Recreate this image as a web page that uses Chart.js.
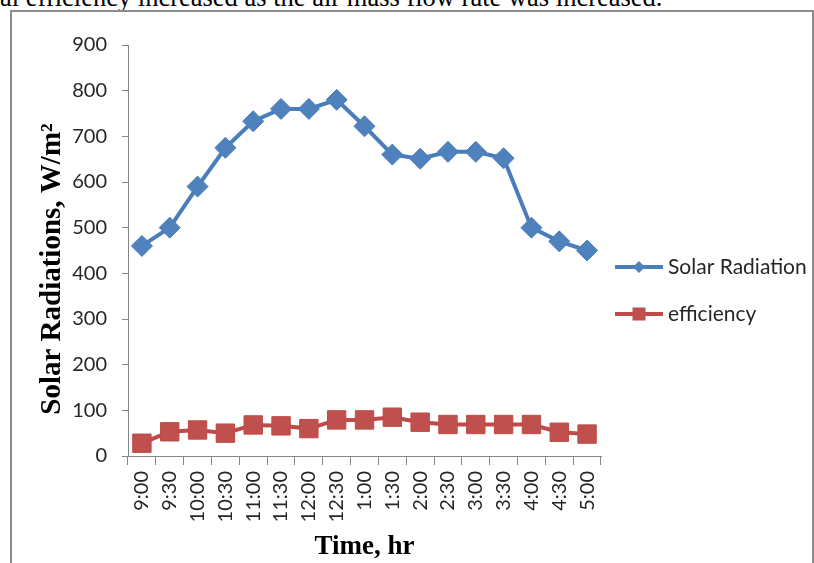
<!DOCTYPE html>
<html>
<head>
<meta charset="utf-8">
<title>Solar radiation and efficiency</title>
<script src="https://cdn.jsdelivr.net/npm/chart.js@4.4.0/dist/chart.umd.min.js"></script>
<style>
  html, body { margin: 0; padding: 0; background: #fff; overflow: hidden; }
  #wrap { position: relative; width: 814px; height: 563px; overflow: hidden; }
  #caption {
    position: absolute; left: 0; top: -16px;
    font: 26.5px "Liberation Serif", "Times New Roman", serif;
    line-height: 26.5px; white-space: nowrap; color: #000;
  }
  #frame {
    position: absolute; left: 10px; top: 10px;
    width: 800px; height: 600px;
    border: 2px solid #8c8c8c;
  }
  #chart { position: absolute; left: 0; top: 0; }
</style>
</head>
<body>
<div id="wrap">
  <div id="caption">al efficiency increased as the air mass flow rate was increased.</div>
  <div id="frame"></div>
  <canvas id="chart" width="814" height="563"></canvas>
</div>
<script>
// --- DATA ---
const timeLabels = ['9:00', '9:30', '10:00', '10:30', '11:00', '11:30', '12:00', '12:30',
  '1:00', '1:30', '2:00', '2:30', '3:00', '3:30', '4:00', '4:30', '5:00'];
const solarRadiation = [460, 500, 590, 675, 733, 760, 760, 780, 722, 660, 651, 666, 666, 652, 500, 470, 450];
const efficiency = [28, 53, 57, 50, 68, 66, 60, 79, 79, 85, 74, 69, 69, 69, 69, 52, 48];
const yTicks = [0, 100, 200, 300, 400, 500, 600, 700, 800, 900];

const AXIS_GRAY = '#868686';
const TEXT = '#262626';
const SANS = 'Lato, "Open Sans", sans-serif';
const SERIF = '"Liberation Serif", "Times New Roman", serif';

// --- LEGEND ON THE RIGHT (line + marker, Excel style) ---
function drawMarker(ctx, style, x, y, r) {
    ctx.beginPath();
    if (style === 'rectRot') {
        ctx.moveTo(x - r, y);
        ctx.lineTo(x, y - r);
        ctx.lineTo(x + r, y);
        ctx.lineTo(x, y + r);
    } else {
        ctx.rect(x - r, y - r, 2 * r, 2 * r);
    }
    ctx.closePath();
    ctx.fill();
}

const sideLegend = {
    id: 'sideLegend',
    afterDraw(chart) {
        const ctx = chart.ctx;
        const x0 = chart.chartArea.right + 14;
        chart.data.datasets.forEach((ds, i) => {
            const y = 267 + i * 47;
            ctx.save();
            ctx.strokeStyle = ds.borderColor;
            ctx.lineWidth = 4;
            ctx.beginPath();
            ctx.moveTo(x0, y);
            ctx.lineTo(x0 + 48, y);
            ctx.stroke();
            ctx.fillStyle = ds.pointBackgroundColor;
            drawMarker(ctx, ds.pointStyle, x0 + 24, y, ds.pointStyle === 'rectRot' ? 6 : 6.5);
            ctx.fillStyle = TEXT;
            ctx.font = '21px ' + SANS;
            ctx.textBaseline = 'middle';
            ctx.fillText(ds.label, x0 + 53, y);
            ctx.restore();
        });
    }
};

// y title drawn by hand so it sits where the original has it
const yTitle = {
    id: 'yTitle',
    afterDraw(chart) {
        const ctx = chart.ctx;
        ctx.save();
        ctx.translate(53, 269);
        ctx.rotate(-Math.PI / 2);
        ctx.fillStyle = '#000';
        ctx.font = 'bold 29px ' + SERIF;
        ctx.textAlign = 'center';
        ctx.textBaseline = 'middle';
        ctx.fillText('Solar Radiations, W/m\u00B2', 0, 0);
        ctx.restore();
    }
};

new Chart(document.getElementById('chart'), {
    type: 'line',
    data: {
        labels: timeLabels,
        datasets: [{
            label: 'Solar Radiation',
            data: solarRadiation,
            borderColor: '#4A7EBB',
            borderWidth: 4,
            pointStyle: 'rectRot',
            pointRadius: 10.5,
            pointBackgroundColor: '#4F81BD',
            pointBorderColor: '#4A7EBB',
            pointBorderWidth: 1,
            tension: 0
        }, {
            label: 'efficiency',
            data: efficiency,
            borderColor: '#BE4B48',
            borderWidth: 4,
            pointStyle: 'rect',
            pointRadius: 13,
            pointBackgroundColor: '#C0504D',
            pointBorderColor: '#BE4B48',
            pointBorderWidth: 1,
            tension: 0
        }]
    },
    options: {
        responsive: false,
        animation: false,
        events: [],
        layout: { padding: { top: 45, right: 213, bottom: 0, left: 0 } },
        plugins: {
            legend: { display: false },
            tooltip: { enabled: false }
        },
        scales: {
            x: {
                offset: true,
                grid: { offset: true, drawOnChartArea: false, tickLength: 9, color: AXIS_GRAY },
                border: { color: AXIS_GRAY, width: 1 },
                ticks: {
                    color: TEXT, font: { family: SANS, size: 20 },
                    minRotation: 90, maxRotation: 90, padding: 6, autoSkip: false
                },
                title: {
                    display: true, text: 'Time, hr', color: '#000',
                    font: { family: SERIF, size: 27, weight: 'bold' },
                    padding: { top: 0, bottom: 0 }
                },
                afterFit: (scale) => { scale.height = 107; }
            },
            y: {
                min: 0,
                max: 900,
                afterBuildTicks: (scale) => { scale.ticks = yTicks.map(v => ({ value: v })); },
                grid: { drawOnChartArea: false, tickLength: 6, color: AXIS_GRAY },
                border: { color: AXIS_GRAY, width: 1 },
                ticks: { color: TEXT, font: { family: SANS, size: 20 }, padding: 15 },
                afterFit: (scale) => { scale.width = 128; }
            }
        }
    },
    plugins: [sideLegend, yTitle]
});
</script>
</body>
</html>
